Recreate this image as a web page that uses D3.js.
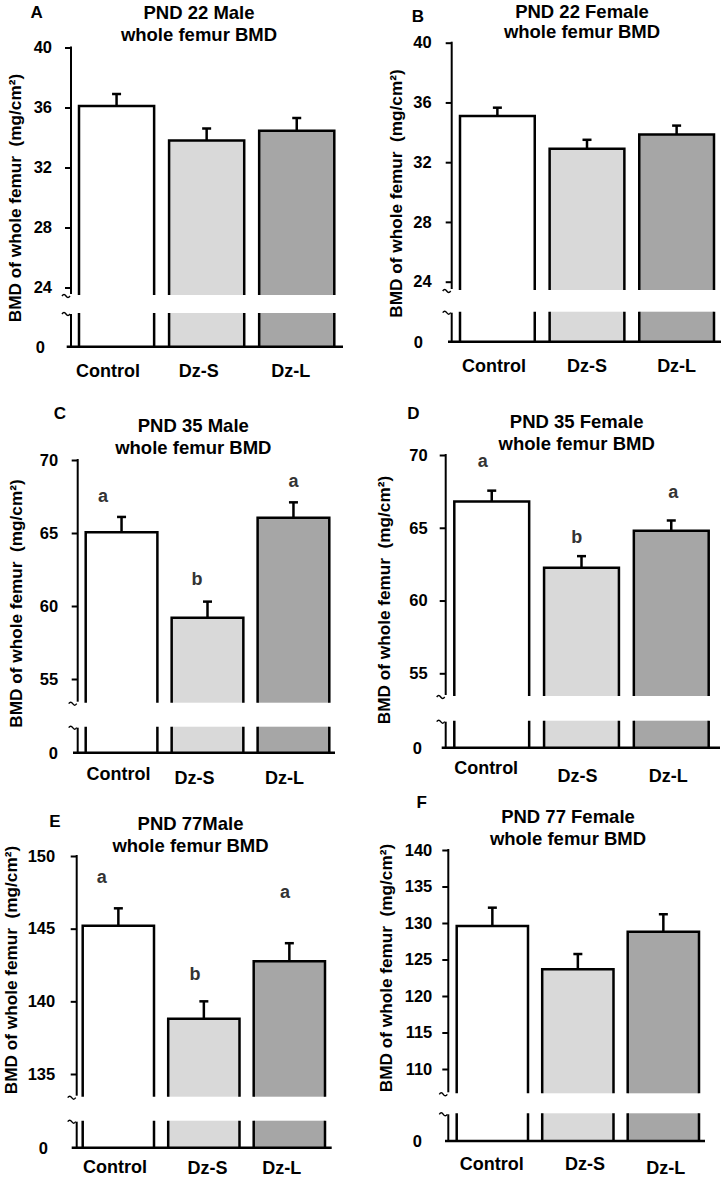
<!DOCTYPE html>
<html>
<head>
<meta charset="utf-8">
<script src="https://cdn.jsdelivr.net/npm/d3@7"></script>
<style>
  html, body { margin: 0; padding: 0; background: #fff; }
  svg text { font-family: "Liberation Sans", Arial, sans-serif; font-weight: bold; }
</style>
</head>
<body>
<script>
// ---------------- DATA ----------------
const categories = ["Control", "Dz-S", "Dz-L"];
const panelIds = ["A", "B", "C", "D", "E", "F"];
const titleLine1 = ["PND 22 Male", "PND 22 Female", "PND 35 Male", "PND 35 Female", "PND 77Male", "PND 77 Female"];
const titleLine2 = "whole femur BMD";
const yLabel = "BMD of whole femur  (mg/cm\u00B2)";

const meansA = [36.1, 33.8, 34.45];
const semA   = [0.8, 0.8, 0.85];
const meansB = [35.1, 32.9, 33.85];
const semB   = [0.55, 0.6, 0.6];
const meansC = [65.05, 59.2, 66.05];
const semC   = [1.05, 1.1, 1.05];
const meansD = [66.8, 62.25, 64.8];
const semD   = [0.75, 0.8, 0.7];
const meansE = [145.2, 138.8, 142.75];
const semE   = [1.2, 1.2, 1.25];
const meansF = [129.6, 123.65, 128.8];
const semF   = [2.5, 2.1, 2.4];

const ticksAB = [24, 28, 32, 36, 40];
const ticksCD = [55, 60, 65, 70];
const ticksE  = [135, 140, 145, 150];
const ticksF  = [110, 115, 120, 125, 130, 135, 140];

const lettersC = ["a", "b", "a"];
const letterValsC = [67.14, 61.44, 68.13];
const lettersD = ["a", "b", "a"];
const letterValsD = [69.16, 63.94, 67.03];
const lettersE = ["a", "b", "a"];
const letterValsE = [148.12, 141.47, 147.09];

const fills = ["#ffffff", "#d9d9d9", "#a6a6a6"];

// ---------------- LAYOUT ----------------
const layouts = [
  { axisX: 71, pxTop: 47.5, pxBot: 287.5, brk1: 295, brk2: 313, base: 346.7, barL: 79, barR: 334.3, baseL: 66.7, baseR: 343,
    titleX: 199, t1Y: 19.3, t2Y: 40.7, letter: [36.7, 18.3], ylab: [15, 198], xlabDx: [-8.5, -8, -6], xlabY: [376.5, 376.5, 376.5],
    tickPad: 13, zeroPad: 26, letterDx: [0, 0, 0] },
  { axisX: 451.7, pxTop: 42.7, pxBot: 281.7, brk1: 290, brk2: 311.7, base: 341.7, barL: 460, barR: 714, baseL: 448, baseR: 721,
    titleX: 582, t1Y: 17.5, t2Y: 38, letter: [418, 21.7], ylab: [395.8, 193.5], xlabDx: [-3.4, 0, 0], xlabY: [371.5, 371.5, 371.5],
    tickPad: 14, zeroPad: 28.7, letterDx: [0, 0, 0] },
  { axisX: 77.7, pxTop: 460, pxBot: 679, brk1: 702.7, brk2: 726.7, base: 752.7, barL: 85.7, barR: 329.3, baseL: 73, baseR: 335,
    titleX: 193.3, t1Y: 431.7, t2Y: 454, letter: [60, 419.3], ylab: [15.8, 603.5], xlabDx: [-3, -13, -9], xlabY: [780, 784, 784],
    tickPad: 13.5, zeroPad: 19.7, letterDx: [-18.5, -10.5, 0] },
  { axisX: 445.7, pxTop: 455, pxBot: 673.3, brk1: 696, brk2: 720.7, base: 747.7, barL: 454.3, barR: 708.7, baseL: 441.7, baseR: 720,
    titleX: 576.7, t1Y: 428.3, t2Y: 450, letter: [413.3, 419.3], ylab: [384, 600], xlabDx: [-5.6, -4, -3], xlabY: [774, 782, 782],
    tickPad: 12, zeroPad: 23.7, letterDx: [-9, -4.7, 2] },
  { axisX: 76.7, pxTop: 856, pxBot: 1074, brk1: 1096.7, brk2: 1120.7, base: 1147.7, barL: 82.7, barR: 325, baseL: 71.7, baseR: 331.7,
    titleX: 190.5, t1Y: 830, t2Y: 851.7, letter: [55, 826.7], ylab: [10.8, 970], xlabDx: [-3.4, 3.6, -7.7], xlabY: [1172.5, 1173.5, 1173.5],
    tickPad: 15.5, zeroPad: 28.7, letterDx: [-16.7, -8.9, -4.4] },
  { axisX: 448.3, pxTop: 850, pxBot: 1069, brk1: 1093.3, brk2: 1113.3, base: 1141, barL: 456.7, barR: 699, baseL: 445, baseR: 705,
    titleX: 568, t1Y: 823.3, t2Y: 845, letter: [421.7, 808.3], ylab: [385.5, 968], xlabDx: [-0.6, 7.2, 2.5], xlabY: [1170, 1170, 1173.5],
    tickPad: 10, zeroPad: 26.3, letterDx: [0, 0, 0] }
];

const panelMeans = [meansA, meansB, meansC, meansD, meansE, meansF];
const panelSem = [semA, semB, semC, semD, semE, semF];
const panelTicks = [ticksAB, ticksAB, ticksCD, ticksCD, ticksE, ticksF];
const panelLetters = [null, null, lettersC, lettersD, lettersE, null];
const panelLetterVals = [null, null, letterValsC, letterValsD, letterValsE, null];

// ---------------- DRAW ----------------
const svg = d3.select("body").append("svg")
  .attr("width", 721).attr("height", 1178)
  .style("display", "block");
svg.append("rect").attr("width", 721).attr("height", 1178).attr("fill", "#fff");

function tilde(g, cx, cy) {
  g.append("path")
    .attr("d", `M${cx - 4},${cy + 1} q2,-3 4,0 t4,0`)
    .attr("fill", "none").attr("stroke", "#000").attr("stroke-width", 1.4);
}

panelIds.forEach((id, k) => {
  const L = layouts[k];
  const means = panelMeans[k], sem = panelSem[k], ticks = panelTicks[k];
  const g = svg.append("g");

  const y = d3.scaleLinear().domain([d3.min(ticks), d3.max(ticks)]).range([L.pxBot, L.pxTop]);
  const x = d3.scaleBand().domain(categories).range([L.barL, L.barR]).paddingInner(0.166).paddingOuter(0);
  const bw = x.bandwidth();

  categories.forEach((c, i) => {
    const x0 = x(c), top = y(means[i]);
    g.append("rect").attr("x", x0).attr("y", top).attr("width", bw).attr("height", L.brk1 - top).attr("fill", fills[i]);
    g.append("rect").attr("x", x0).attr("y", L.brk2).attr("width", bw).attr("height", L.base - L.brk2).attr("fill", fills[i]);
    g.append("path")
      .attr("d", `M${x0},${L.brk1} V${top} H${x0 + bw} V${L.brk1}`)
      .attr("fill", "none").attr("stroke", "#000").attr("stroke-width", 2.5).attr("stroke-linejoin", "miter");
    g.append("path")
      .attr("d", `M${x0},${L.brk2} V${L.base} M${x0 + bw},${L.brk2} V${L.base}`)
      .attr("fill", "none").attr("stroke", "#000").attr("stroke-width", 2.5);
    const cx = x0 + bw / 2, ey = y(means[i] + sem[i]);
    g.append("line").attr("x1", cx).attr("x2", cx).attr("y1", top).attr("y2", ey)
      .attr("stroke", "#000").attr("stroke-width", 2.5);
    g.append("line").attr("x1", cx - 4.5).attr("x2", cx + 4.5).attr("y1", ey).attr("y2", ey)
      .attr("stroke", "#000").attr("stroke-width", 2.5);
    g.append("text").attr("x", cx + L.xlabDx[i]).attr("y", L.xlabY[i])
      .attr("text-anchor", "middle").attr("font-size", 18).attr("fill", "#000").text(c);
    if (panelLetters[k]) {
      g.append("text").attr("x", cx + L.letterDx[i]).attr("y", y(panelLetterVals[k][i]))
        .attr("text-anchor", "middle").attr("font-size", 18).attr("fill", "#333").text(panelLetters[k][i]);
    }
  });

  const axis = d3.axisLeft(y).tickValues(ticks).tickSize(6).tickSizeOuter(0).tickPadding(L.tickPad);
  const ag = g.append("g").attr("transform", `translate(${L.axisX},0)`).call(axis);
  ag.select(".domain").remove();
  ag.selectAll(".tick line").attr("stroke", "#000").attr("stroke-width", 2);
  ag.selectAll(".tick text").attr("font-size", 16.5).attr("fill", "#000")
    .attr("font-family", "Liberation Sans, Arial, sans-serif").attr("font-weight", "bold");
  g.append("line").attr("x1", L.axisX).attr("x2", L.axisX).attr("y1", L.pxTop - 1).attr("y2", L.brk1 - 1)
    .attr("stroke", "#000").attr("stroke-width", 2);
  g.append("line").attr("x1", L.axisX).attr("x2", L.axisX).attr("y1", L.brk2 + 1).attr("y2", L.base)
    .attr("stroke", "#000").attr("stroke-width", 2);
  tilde(g, L.axisX - 5, L.brk1);
  tilde(g, L.axisX - 5, L.brk2);
  g.append("line").attr("x1", L.baseL).attr("x2", L.baseR).attr("y1", L.base).attr("y2", L.base)
    .attr("stroke", "#000").attr("stroke-width", 2.5);
  g.append("text").attr("x", L.axisX - L.zeroPad).attr("y", L.base).attr("dy", "0.36em")
    .attr("text-anchor", "end").attr("font-size", 16.5).attr("fill", "#000").text("0");

  g.append("text").attr("x", L.titleX).attr("y", L.t1Y).attr("text-anchor", "middle")
    .attr("font-size", 18.5).attr("fill", "#000").text(titleLine1[k]);
  g.append("text").attr("x", L.titleX).attr("y", L.t2Y).attr("text-anchor", "middle")
    .attr("font-size", 18.5).attr("fill", "#000").text(titleLine2);
  g.append("text").attr("x", L.letter[0]).attr("y", L.letter[1]).attr("text-anchor", "middle")
    .attr("font-size", 17).attr("fill", "#000").text(id);
  g.append("text")
    .attr("transform", `translate(${L.ylab[0]},${L.ylab[1]}) rotate(-90)`)
    .attr("dy", "0.36em").attr("text-anchor", "middle").attr("font-size", 17.2)
    .attr("fill", "#000").style("white-space", "pre").text(yLabel);
});
</script>
</body>
</html>
